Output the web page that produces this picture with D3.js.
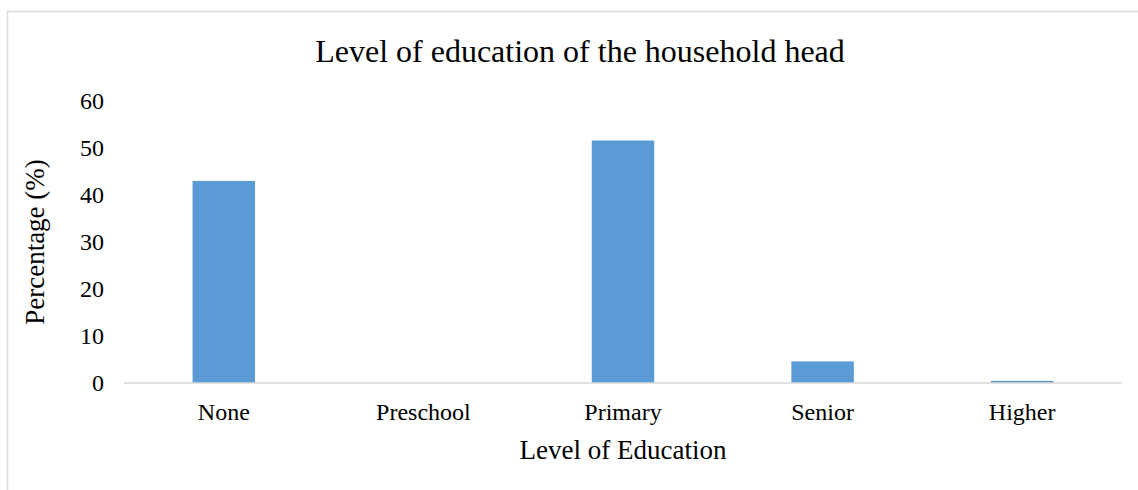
<!DOCTYPE html>
<html>
<head>
<meta charset="utf-8">
<script src="https://cdn.jsdelivr.net/npm/d3@7"></script>
<style>
  body { margin: 0; background: #fff; }
  text { font-family: "Liberation Serif", "Times New Roman", serif; fill: #000; }
</style>
</head>
<body>
<div id="chart"></div>
<script>
const categories = ["None", "Preschool", "Primary", "Senior", "Higher"];
const percentages = [43, 0, 51.6, 4.6, 0.45];
const yTicks = [0, 10, 20, 30, 40, 50, 60];

const W = 1138, H = 490;
const plot = { left: 124, right: 1122, top: 101, bottom: 383 };

const svg = d3.select("#chart")
  .append("svg")
  .attr("width", W)
  .attr("height", H);

// chart area border (only top and left visible in the crop)
svg.append("path")
  .attr("d", `M7.5,${H} V11.5 H${W}`)
  .attr("fill", "none")
  .attr("stroke", "#d9d9d9")
  .attr("stroke-width", 1.5);

const x = d3.scaleBand()
  .domain(categories)
  .range([plot.left, plot.right])
  .paddingInner(0.687)
  .paddingOuter(0.3435);

const y = d3.scaleLinear().domain([0, 60]).range([plot.bottom, plot.top]);

// Y tick labels
svg.append("g")
  .selectAll("text")
  .data(yTicks)
  .join("text")
  .attr("x", 104)
  .attr("y", d => y(d))
  .attr("dy", "0.35em")
  .attr("text-anchor", "end")
  .attr("font-size", 24)
  .text(d => d);

// Bars
svg.append("g")
  .selectAll("rect")
  .data(categories.map((c, i) => ({ c, v: percentages[i] })))
  .join("rect")
  .attr("x", d => x(d.c))
  .attr("y", d => y(d.v))
  .attr("width", x.bandwidth())
  .attr("height", d => y(0) - y(d.v))
  .attr("fill", "#5b9bd5");

// Zero axis line
svg.append("line")
  .attr("x1", plot.left).attr("x2", plot.right)
  .attr("y1", y(0)).attr("y2", y(0))
  .attr("stroke", "#d9d9d9")
  .attr("stroke-width", 1.5);

// Category labels
svg.append("g")
  .selectAll("text")
  .data(categories)
  .join("text")
  .attr("x", d => x(d) + x.bandwidth() / 2)
  .attr("y", 420)
  .attr("text-anchor", "middle")
  .attr("font-size", 24)
  .text(d => d);

// Title
svg.append("text")
  .attr("x", 580).attr("y", 62)
  .attr("text-anchor", "middle")
  .attr("font-size", 32)
  .text("Level of education of the household head");

// X title
svg.append("text")
  .attr("x", (plot.left + plot.right) / 2).attr("y", 459)
  .attr("text-anchor", "middle")
  .attr("font-size", 27)
  .text("Level of Education");

// Y title
svg.append("text")
  .attr("transform", "rotate(-90)")
  .attr("x", -(plot.top + plot.bottom) / 2).attr("y", 44)
  .attr("text-anchor", "middle")
  .attr("font-size", 27)
  .text("Percentage (%)");
</script>
</body>
</html>
